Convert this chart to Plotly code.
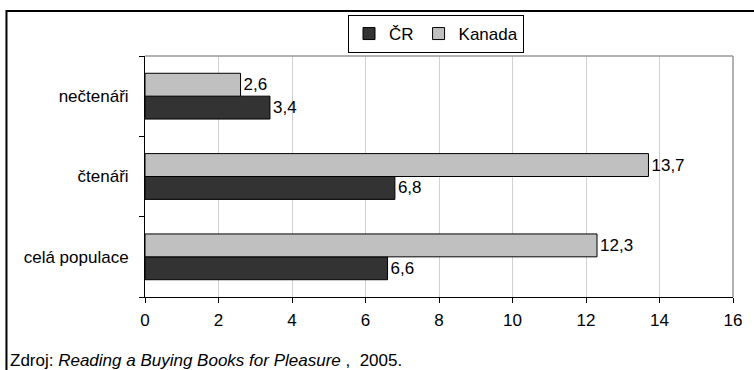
import plotly.graph_objects as go

categories = ["celá populace", "čtenáři", "nečtenáři"]
series_names = ["ČR", "Kanada"]
cr_values = [6.6, 6.8, 3.4]
kanada_values = [12.3, 13.7, 2.6]
x_ticks = [0, 2, 4, 6, 8, 10, 12, 14, 16]
source_text = "Zdroj: <i>Reading a Buying Books for Pleasure</i> ,  2005."

W, H = 754, 370
L, R, T, B = 145, 19, 56, 73
pw, ph = W - L - R, H - T - B

def px_x(p):
    return (p - L) / pw

def px_y(p):
    return (H - B - p) / ph

def fmt(v):
    return f"{v:.1f}".replace(".", ",")

font_family = "Liberation Sans, Arial, sans-serif"
FS = 17

fig = go.Figure()
fig.add_trace(go.Bar(
    y=categories, x=cr_values, orientation="h", name=series_names[0],
    marker=dict(color="#333333", line=dict(color="#000000", width=1)),
    text=[fmt(v) for v in cr_values], textposition="outside",
    textfont=dict(size=FS, color="#000000"), cliponaxis=False,
))
fig.add_trace(go.Bar(
    y=categories, x=kanada_values, orientation="h", name=series_names[1],
    marker=dict(color="#c0c0c0", line=dict(color="#000000", width=1)),
    text=[fmt(v) for v in kanada_values], textposition="outside",
    textfont=dict(size=FS, color="#000000"), cliponaxis=False,
))

fig.update_layout(
    width=W, height=H,
    margin=dict(l=L, r=R, t=T, b=B, pad=0),
    paper_bgcolor="white", plot_bgcolor="white",
    barmode="group", bargap=0.43, bargroupgap=0,
    font=dict(family=font_family, size=FS, color="#000000"),
    showlegend=True,
    legend=dict(
        orientation="h", x=px_x(437), xanchor="center", y=px_y(15), yanchor="top",
        bordercolor="#000000", borderwidth=1, bgcolor="white",
        font=dict(size=FS), itemwidth=30, tracegroupgap=0,
    ),
    xaxis=dict(
        range=[0, 16], tickvals=x_ticks, ticktext=[str(t) for t in x_ticks],
        showgrid=True, gridcolor="#d0d0d0", gridwidth=1,
        showline=True, linecolor="#000000", linewidth=1,
        ticks="outside", ticklen=5, tickcolor="#000000",
        tickfont=dict(size=FS), zeroline=False, fixedrange=True,
        ticklabelstandoff=3,
    ),
    yaxis=dict(
        categoryorder="array", categoryarray=categories,
        showline=True, linecolor="#000000", linewidth=1,
        ticks="outside", ticklen=5, tickcolor="#000000", tickson="boundaries",
        tickfont=dict(size=FS), showgrid=False, ticklabelstandoff=12,
        fixedrange=True,
    ),
    shapes=[
        dict(type="line", xref="paper", yref="paper", x0=0, x1=1, y0=1, y1=1,
             line=dict(color="#999999", width=1.5)),
        dict(type="line", xref="paper", yref="paper", x0=1, x1=1, y0=0, y1=1,
             line=dict(color="#999999", width=1.5)),
        dict(type="line", xref="paper", yref="paper", x0=px_x(6), x1=px_x(760),
             y0=px_y(11), y1=px_y(11), line=dict(color="#000000", width=2)),
        dict(type="line", xref="paper", yref="paper", x0=px_x(6), x1=px_x(6),
             y0=px_y(10), y1=px_y(380), line=dict(color="#000000", width=2)),
    ],
    annotations=[
        dict(xref="paper", yref="paper", x=px_x(8), y=px_y(360), xanchor="left",
             yanchor="middle", showarrow=False, align="left",
             text=source_text, font=dict(size=FS, color="#000000")),
    ],
)

fig.write_html("out.html",
               config={"displayModeBar": False},
               post_script="document.body.style.margin='0';document.body.style.padding='0';")
